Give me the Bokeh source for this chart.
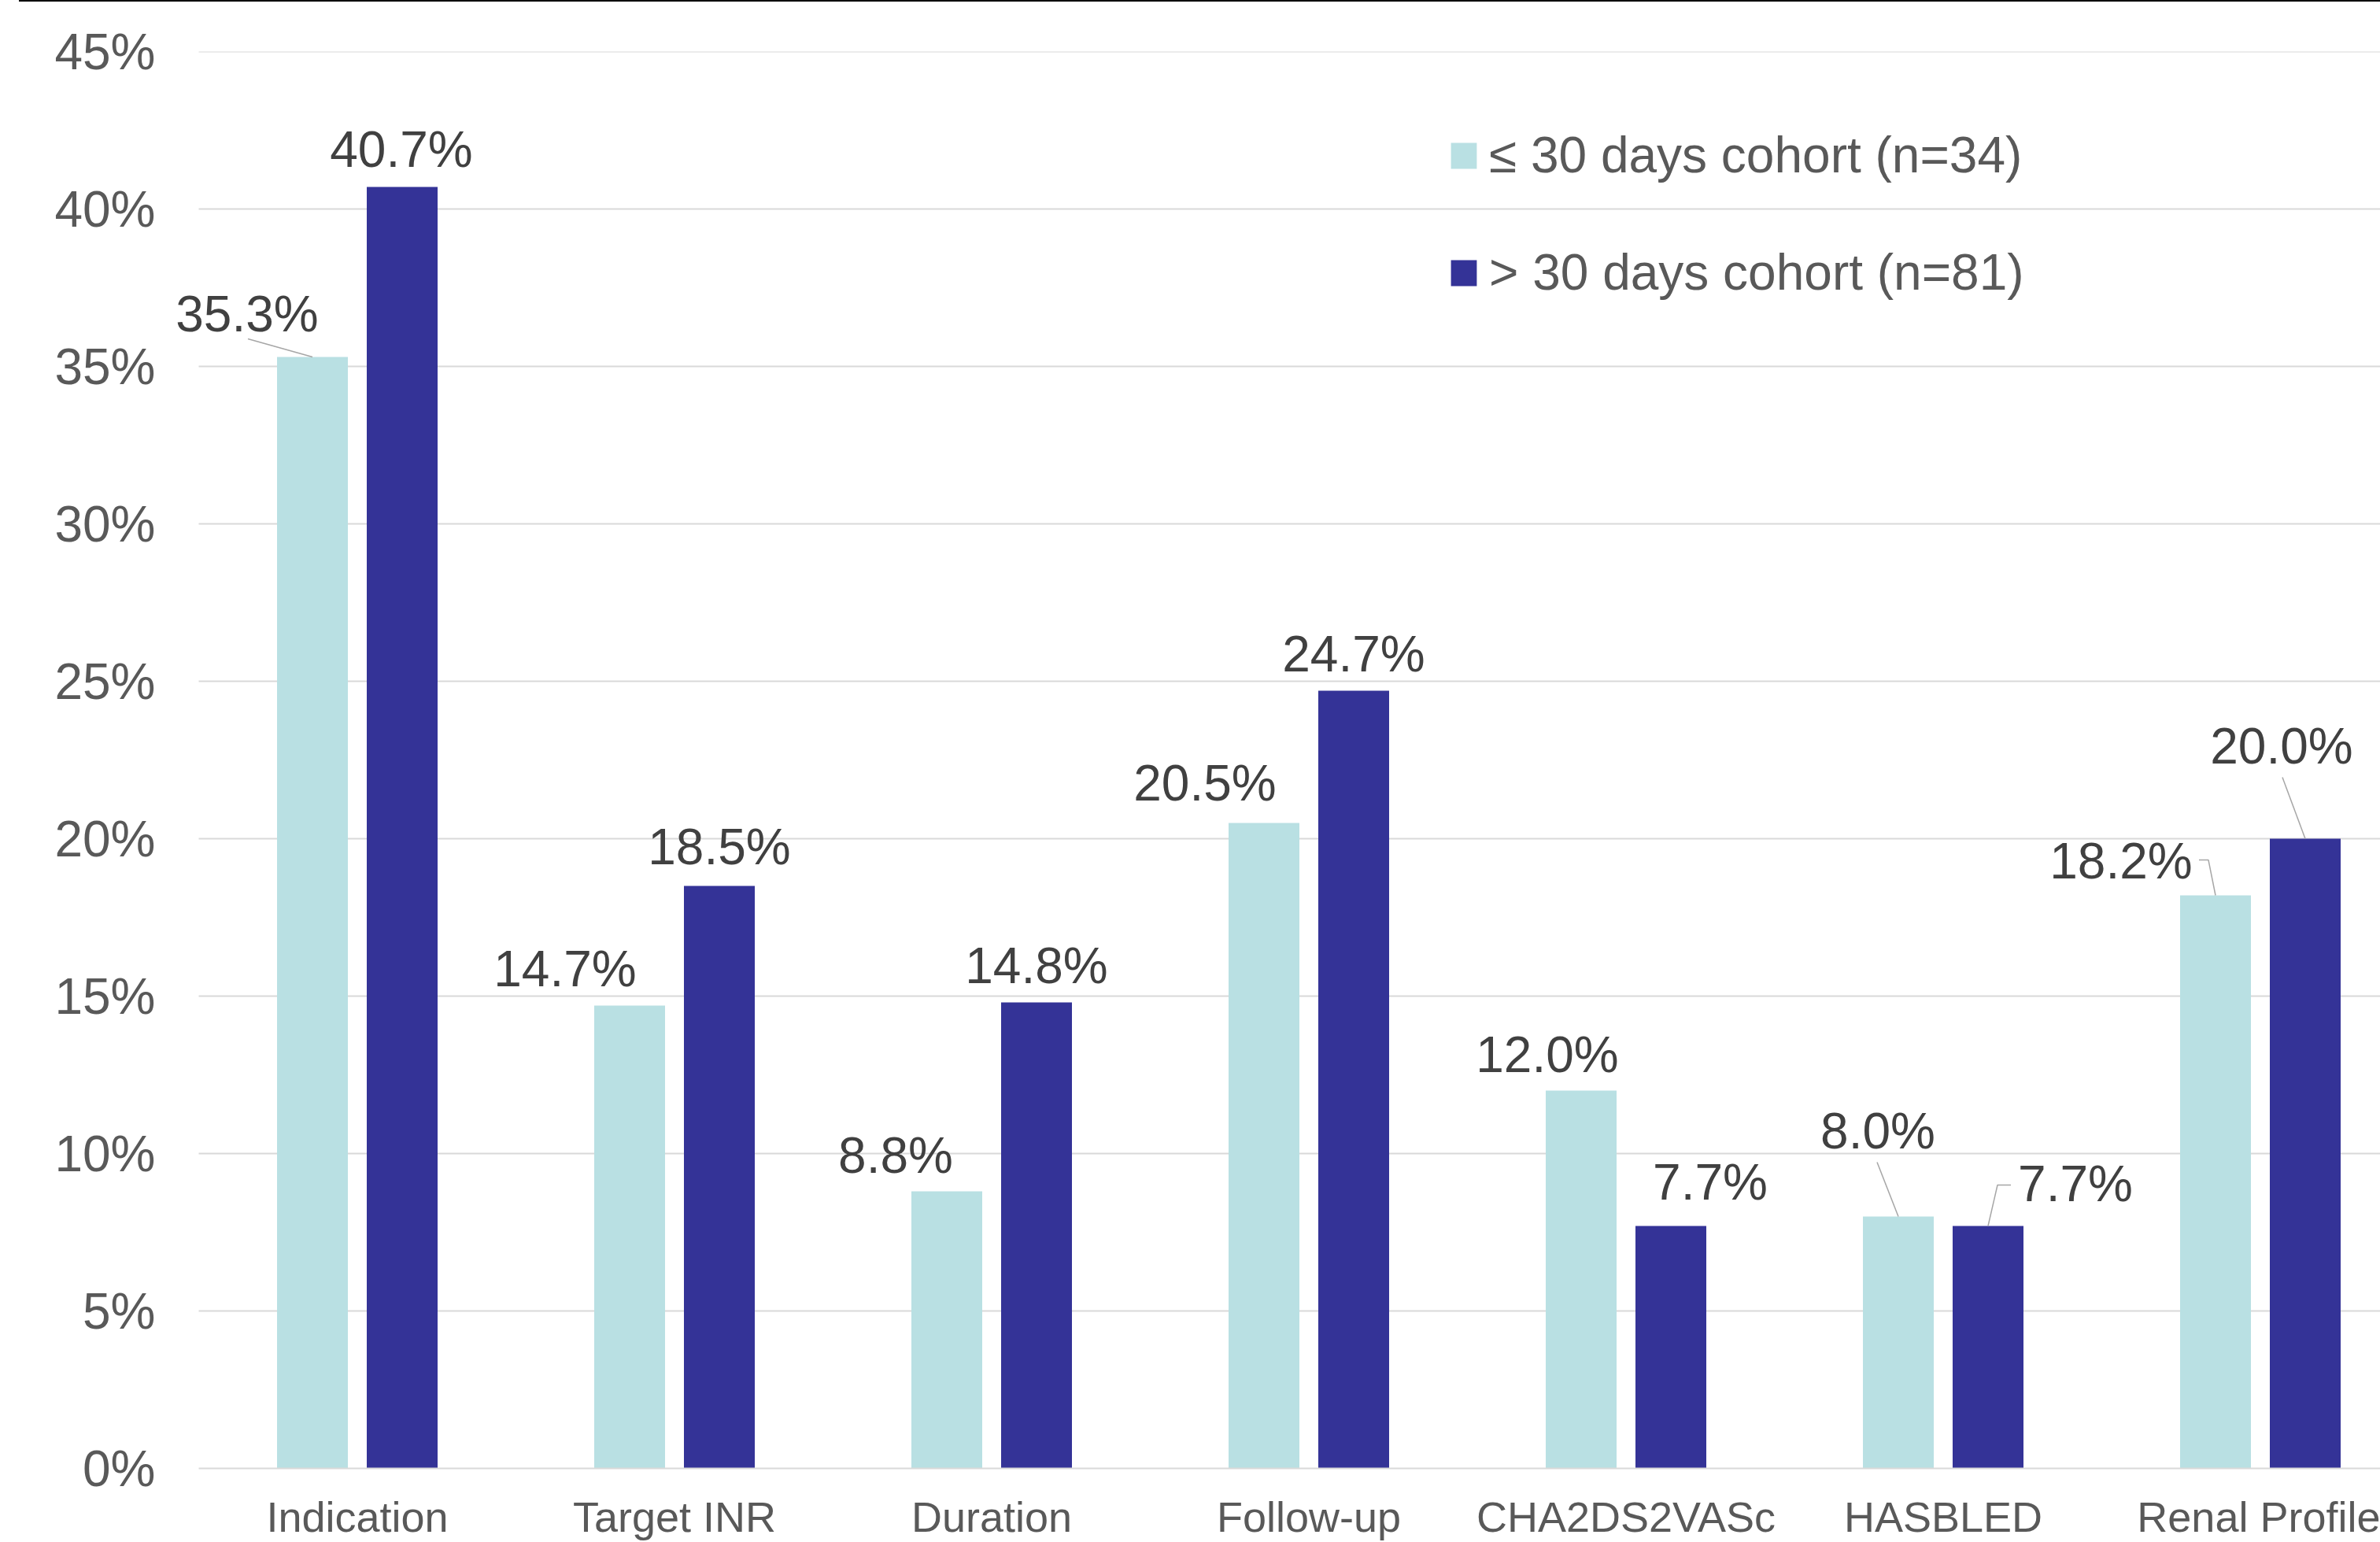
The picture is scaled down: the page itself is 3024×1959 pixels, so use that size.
from bokeh.plotting import figure
from bokeh.models import (Range1d, FixedTicker, PrintfTickFormatter, Legend, LegendItem,
                          Div, Label)
from bokeh.layouts import column
from bokeh.embed import file_html
from bokeh.resources import INLINE

# ---------------- data ----------------
categories = ["Indication", "Target INR", "Duration", "Follow-up",
              "CHA2DS2VASc", "HASBLED", "Renal Profile"]
cohort_le30 = [35.3, 14.7, 8.8, 20.5, 12.0, 8.0, 18.2]
cohort_gt30 = [40.7, 18.5, 14.8, 24.7, 7.7, 7.7, 20.0]
series_names = ["\u2264 30 days cohort (n=34)", "> 30 days cohort (n=81)"]
y_ticks = [0, 5, 10, 15, 20, 25, 30, 35, 40, 45]

# ---------------- styling / layout ----------------
LIGHT = "#B9E0E3"
DARK = "#343397"
GRID = "#D9D9D9"
FONT = "Liberation Sans"
W, H = 3024, 1957
BORDER_L, BORDER_T, BORDER_B = 215, 63, 93
AXIS_ORIGIN = 252                  # px where the category axis starts
FRAME_W = W - BORDER_L
FRAME_H = H - BORDER_T - BORDER_B
CAT_PX = 403.0                     # pixel width of one category
X_START = -(AXIS_ORIGIN - BORDER_L) / CAT_PX
X_END = (W - AXIS_ORIGIN) / CAT_PX
Y_END = 45
PX_X = CAT_PX                      # px per x unit
PX_Y = FRAME_H / Y_END             # px per y unit
BAR_W = 90 / CAT_PX
BAR_OFF = 57 / CAT_PX
BASELINE_FIX = 23                  # renderer baseline correction (px)

# label offsets (px, screen: +x right, -y up; relative to bar top centre)
le30_label_off = [(-83, -32), (-82, -24), (-65, -23), (-75, -28), (-43, -23), (-26, -86), (-120, -21)]
gt30_label_off = [(-1, -25), (0, -27), (0, -24), (0, -24), (50, -33), (111, -31), (-30, -95)]
# leader lines (px polylines relative to bar top centre), keyed by (series, index)
leaders = {
    (0, 0): [(-82, -23), (0, 0)],
    (0, 5): [(-27, -69), (0, 0)],
    (1, 5): [(0, 0), (12, -52), (29, -52)],
    (0, 6): [(-21, -45), (-9, -45), (0, 0)],
    (1, 6): [(-29, -78), (0, 0)],
}

p = figure(width=W, height=H, output_backend="svg", toolbar_location=None,
           x_range=Range1d(X_START, X_END), y_range=Range1d(0, Y_END),
           min_border_left=BORDER_L, min_border_right=0,
           min_border_top=BORDER_T, min_border_bottom=BORDER_B,
           outline_line_color=None, background_fill_color="white",
           border_fill_color="white")

# horizontal gridlines starting at the category axis origin
p.segment(x0=[0] * len(y_ticks[1:]), x1=[X_END] * len(y_ticks[1:]),
          y0=y_ticks[1:], y1=y_ticks[1:], line_color=GRID, line_width=2)

centers = [i + 0.5 for i in range(len(categories))]
x_le = [c - BAR_OFF for c in centers]
x_gt = [c + BAR_OFF for c in centers]

r1 = p.vbar(x=x_le, top=cohort_le30, width=BAR_W, fill_color=LIGHT, line_color=None)
r2 = p.vbar(x=x_gt, top=cohort_gt30, width=BAR_W, fill_color=DARK, line_color=None)

# leader lines
lx, ly = [], []
for (s, i), pts in leaders.items():
    bx = (x_le if s == 0 else x_gt)[i]
    by = (cohort_le30 if s == 0 else cohort_gt30)[i]
    lx.append([bx + dx / PX_X for dx, dy in pts])
    ly.append([by - dy / PX_Y for dx, dy in pts])
p.multi_line(xs=lx, ys=ly, line_color="#A6A6A6", line_width=1.5)

# data labels
for xs, vals, offs in ((x_le, cohort_le30, le30_label_off), (x_gt, cohort_gt30, gt30_label_off)):
    for x, v, (dx, dy) in zip(xs, vals, offs):
        p.add_layout(Label(x=x, y=v, text=f"{v:.1f}%", x_offset=dx, y_offset=-dy + BASELINE_FIX,
                           text_align="center", text_baseline="alphabetic",
                           text_font=FONT, text_font_size="64px",
                           text_color="#404040"))

# axes
p.xaxis.ticker = FixedTicker(ticks=centers)
p.xaxis.major_label_overrides = {c: n for c, n in zip(centers, categories)}
p.xaxis.major_label_text_font = FONT
p.xaxis.major_label_text_font_size = "54px"
p.xaxis.major_label_text_color = "#595959"
p.xaxis.major_label_text_line_height = 1.0
p.xaxis.major_label_standoff = 31
p.xaxis.major_tick_out = 0
p.xaxis.major_tick_in = 0
p.xaxis.major_tick_line_color = None
p.xaxis.minor_tick_line_color = None
p.xaxis.axis_line_color = GRID
p.xaxis.axis_line_width = 2
p.xaxis.bounds = (0, X_END)

p.yaxis.ticker = FixedTicker(ticks=y_ticks)
p.yaxis.formatter = PrintfTickFormatter(format="%d%%")
p.yaxis.major_label_text_font = FONT
p.yaxis.major_label_text_font_size = "64px"
p.yaxis.major_label_text_color = "#595959"
p.yaxis.major_label_standoff = 12
p.yaxis.major_tick_line_color = None
p.yaxis.minor_tick_line_color = None
p.yaxis.axis_line_color = None

p.xgrid.grid_line_color = None
p.ygrid.grid_line_color = None

legend = Legend(items=[LegendItem(label=series_names[0], renderers=[r1]),
                       LegendItem(label=series_names[1], renderers=[r2])],
                location=(1587 + AXIS_ORIGIN - BORDER_L, 1482), orientation="vertical",
                glyph_width=41, glyph_height=41, label_standoff=12,
                label_text_font=FONT, label_text_font_size="64px",
                label_text_color="#595959", label_height=72, spacing=75,
                padding=0, margin=0, border_line_color=None,
                background_fill_alpha=0)
p.add_layout(legend, "center")

top_line = Div(text="", width=W - 24, height=2, margin=(0, 0, 0, 24),
               styles={"background-color": "#000000"})

layout = column(top_line, p, spacing=0)
open("out.html", "w").write(file_html(layout, INLINE))
